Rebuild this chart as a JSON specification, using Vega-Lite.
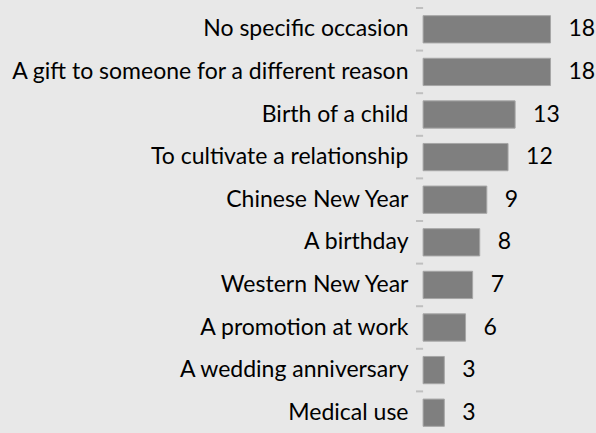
{
  "$schema": "https://vega.github.io/schema/vega-lite/v6.json",
  "autosize": {"type": "none"},
  "padding": {"left": 416, "top": 8, "right": 3, "bottom": 0},
  "width": 177,
  "height": 426,
  "background": "#e8e8e8",
  "config": {"view": {"stroke": null}, "font": "Lato"},
  "resolve": {"scale": {"y": "independent"}, "axis": {"y": "independent"}},
  "layer": [
    {
      "data": {"values": [
        {"occasion": "No specific occasion", "value": 18},
        {"occasion": "A gift to someone for a different reason", "value": 18},
        {"occasion": "Birth of a child", "value": 13},
        {"occasion": "To cultivate a relationship", "value": 12},
        {"occasion": "Chinese New Year", "value": 9},
        {"occasion": "A birthday", "value": 8},
        {"occasion": "Western New Year", "value": 7},
        {"occasion": "A promotion at work", "value": 6},
        {"occasion": "A wedding anniversary", "value": 3},
        {"occasion": "Medical use", "value": 3}
      ]},
      "encoding": {
        "y": {
          "field": "occasion", "type": "nominal", "sort": null,
          "scale": {"paddingInner": 0, "paddingOuter": 0},
          "axis": {
            "title": null, "ticks": false, "domain": false, "labelPadding": 8, "orient": "left",
            "labelFontSize": 23, "labelColor": "#000000", "labelFont": "Lato", "labelLimit": 500
          }
        },
        "x": {
          "field": "value", "type": "quantitative",
          "scale": {"domain": [-1, 24], "nice": false, "zero": false},
          "axis": null
        }
      },
      "layer": [
        {"mark": {"type": "bar", "color": "#7f7f7f", "stroke": "#a6a6a6", "strokeWidth": 1, "height": {"band": 0.64}},
         "encoding": {"x2": {"datum": 0}}},
        {"mark": {"type": "text", "align": "left", "dx": 18, "fontSize": 23, "color": "#000000", "font": "Lato"},
         "encoding": {"text": {"field": "value", "type": "quantitative"}}}
      ]
    },
    {
      "data": {"values": [{"b": 0}, {"b": 1}, {"b": 2}, {"b": 3}, {"b": 4}, {"b": 5}, {"b": 6}, {"b": 7}, {"b": 8}, {"b": 9}]},
      "mark": {"type": "rule", "color": "#bfbfbf", "strokeWidth": 2},
      "encoding": {
        "y": {"field": "b", "type": "quantitative", "scale": {"domain": [0, 10], "reverse": true, "nice": false, "zero": false}, "axis": null},
        "x": {"datum": -1, "type": "quantitative", "scale": {"domain": [-1, 24], "nice": false, "zero": false}},
        "x2": {"datum": 0}
      }
    },
    {
      "mark": {"type": "rule", "color": "#bfbfbf", "strokeWidth": 2},
      "encoding": {"x": {"datum": 0, "type": "quantitative", "scale": {"domain": [-1, 24], "nice": false, "zero": false}}}
    }
  ]
}
